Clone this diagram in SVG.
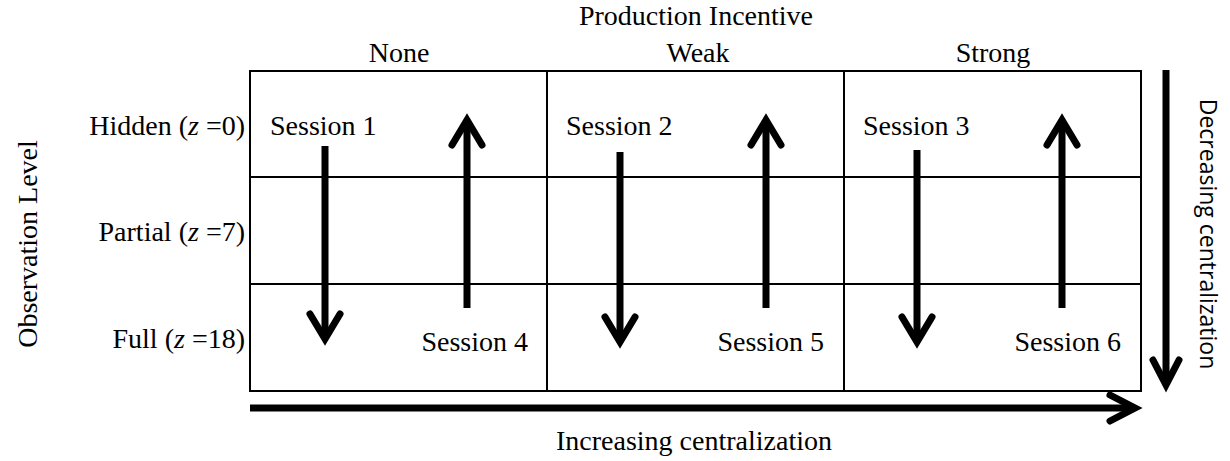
<svg xmlns="http://www.w3.org/2000/svg" width="1230" height="461" viewBox="0 0 1230 461">
<style>
.t{font-family:"Liberation Serif","Times New Roman",serif;font-size:28px;fill:#000}
.s{font-family:"Open Sans","DejaVu Sans",sans-serif;font-size:23px;fill:#000}
.g{fill:none;stroke:#000;stroke-width:2}
.a{fill:none;stroke:#000;stroke-width:7;stroke-linecap:butt}
.h{fill:none;stroke:#000;stroke-width:7;stroke-linecap:round;stroke-linejoin:miter}
</style>
<rect width="1230" height="461" fill="#fff"/>
<g id="grid">
<rect class="g" x="250" y="71" width="891" height="320"/>
<line class="g" x1="547" y1="71" x2="547" y2="391"/>
<line class="g" x1="844" y1="71" x2="844" y2="391"/>
<line class="g" x1="250" y1="177" x2="1141" y2="177"/>
<line class="g" x1="250" y1="284" x2="1141" y2="284"/>
</g>
<g id="labels">
<text class="t" x="696" y="25" text-anchor="middle">Production Incentive</text>
<text class="t" x="399" y="62" text-anchor="middle">None</text>
<text class="t" x="698" y="62" text-anchor="middle">Weak</text>
<text class="t" x="993" y="62" text-anchor="middle">Strong</text>
<text class="t" x="245" y="135" text-anchor="end">Hidden (<tspan font-style="italic">z</tspan> =0)</text>
<text class="t" x="245" y="241" text-anchor="end">Partial (<tspan font-style="italic">z</tspan> =7)</text>
<text class="t" x="245" y="348" text-anchor="end">Full (<tspan font-style="italic">z</tspan> =18)</text>
<text class="t" transform="translate(37,244) rotate(-90)" text-anchor="middle">Observation Level</text>
<text class="t" x="694" y="450" text-anchor="middle">Increasing centralization</text>
<text class="s" transform="translate(1200,234) rotate(90)" text-anchor="middle">Decreasing centralization</text>
</g>
<g id="sessions">
<text class="t" x="270" y="135">Session 1</text>
<text class="t" x="566" y="135">Session 2</text>
<text class="t" x="863" y="135">Session 3</text>
<text class="t" x="528" y="351" text-anchor="end">Session 4</text>
<text class="t" x="824" y="351" text-anchor="end">Session 5</text>
<text class="t" x="1121" y="351" text-anchor="end">Session 6</text>
</g>
<g id="connectors">
<line class="a" x1="325" y1="146" x2="325" y2="336"/>
<polyline class="h" points="310,314 325,339 340,314"/>
<line class="a" x1="467" y1="308" x2="467" y2="122"/>
<polyline class="h" points="452,145 467,120 482,145"/>
<line class="a" x1="620" y1="152" x2="620" y2="339"/>
<polyline class="h" points="605,317 620,342 635,317"/>
<line class="a" x1="766" y1="308" x2="766" y2="122"/>
<polyline class="h" points="751,145 766,120 781,145"/>
<line class="a" x1="917" y1="150" x2="917" y2="339"/>
<polyline class="h" points="902,317 917,342 932,317"/>
<line class="a" x1="1062" y1="308" x2="1062" y2="122"/>
<polyline class="h" points="1047,145 1062,120 1077,145"/>
<line class="a" x1="250" y1="408" x2="1133" y2="408"/>
<polyline class="h" points="1110,395 1135,408 1110,421"/>
<line class="a" x1="1166" y1="70" x2="1166" y2="383"/>
<polyline class="h" points="1153,360 1166,385 1179,360"/>
</g>
</svg>
